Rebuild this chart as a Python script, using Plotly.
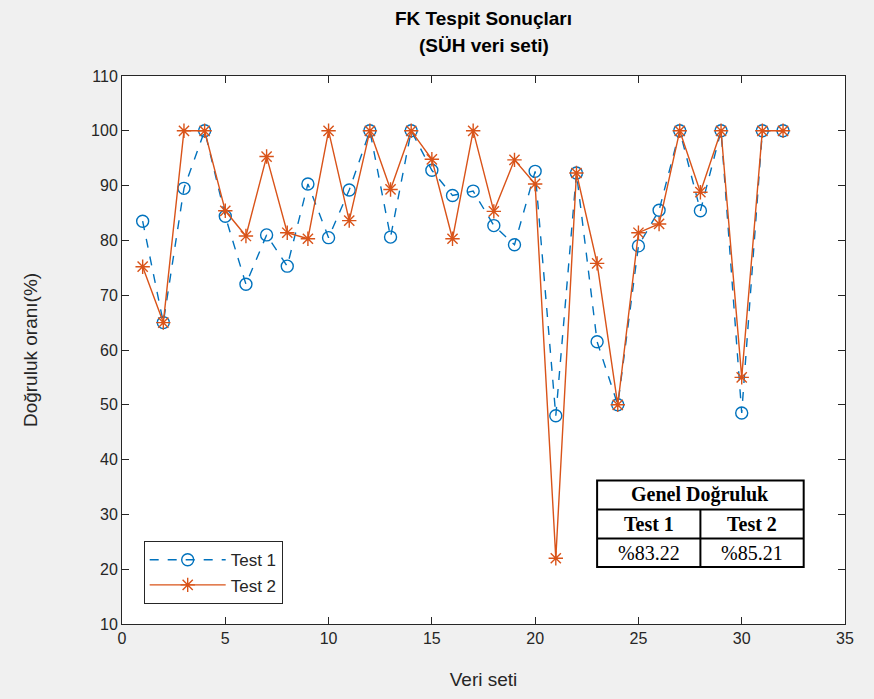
import plotly.graph_objects as go

x_vals = list(range(1, 33))
test1 = [83.5, 65, 89.5, 100, 84.4, 72, 81, 75.3, 90.3, 80.5, 89.2, 100, 80.6, 100, 92.8, 88.2,
         89, 82.7, 79.2, 92.6, 48, 92.3, 61.5, 50, 79, 85.5, 100, 85.4, 100, 48.5, 100, 100]
test2 = [75.2, 65, 100, 100, 85.4, 80.8, 95.3, 81.4, 80.3, 100, 83.6, 100, 89.3, 100, 94.8, 80.3,
         100, 85.3, 94.7, 90.3, 22, 92.3, 75.8, 50, 81.4, 83, 100, 88.8, 100, 55, 100, 100]
series_names = ["Test 1", "Test 2"]
title_lines = ["FK Tespit Sonuçları", "(SÜH veri seti)"]
table_title = "Genel Doğruluk"
table_values = ["%83.22", "%85.21"]

blue = "#0072BD"
orange = "#D95319"
font_main = "Liberation Sans, Arial, sans-serif"
font_serif = "Liberation Serif, Times New Roman, serif"

fig = go.Figure()
fig.add_trace(go.Scatter(x=x_vals, y=test1, name=series_names[0], mode="lines+markers",
                         line=dict(color=blue, width=1.4, dash="dash"),
                         marker=dict(symbol="circle-open", size=12, color=blue, line=dict(width=1.4))))
fig.add_trace(go.Scatter(x=x_vals, y=test2, name=series_names[1], mode="lines+markers",
                         line=dict(color=orange, width=1.4),
                         marker=dict(symbol="asterisk-open", size=12, color=orange, line=dict(width=1.4, color=orange))))

axis_common = dict(showgrid=False, zeroline=False, showline=True, linecolor="#262626", linewidth=1,
                   mirror="ticks", ticks="inside", ticklen=7, tickcolor="#262626",
                   tickfont=dict(family=font_main, size=16, color="#262626"))
fig.update_xaxes(range=[0, 35], dtick=5, tick0=0,
                 title=dict(text="Veri seti", font=dict(family=font_main, size=19, color="#262626"), standoff=26),
                 **axis_common)
fig.update_yaxes(range=[10, 110], dtick=10, tick0=10,
                 title=dict(text="Doğruluk oranı(%)", font=dict(family=font_main, size=19, color="#262626"), standoff=48),
                 **axis_common)

# Title lines
for txt, yy in zip(title_lines, [1.105, 1.056]):
    fig.add_annotation(x=0.5, y=yy, xref="paper", yref="paper", text="<b>" + txt + "</b>",
                       showarrow=False, xanchor="center", yanchor="middle",
                       font=dict(family=font_main, size=19, color="black"))

# Table drawn as shapes + annotations
x0, xm, x1 = 23.0, 28.0, 33.0
ys = [36.2, 30.9, 25.6, 20.4]
fig.add_shape(type="rect", x0=x0, x1=x1, y0=ys[3], y1=ys[0], xref="x", yref="y",
              line=dict(color="black", width=2), fillcolor="white", layer="above")
for yy in ys[1:3]:
    fig.add_shape(type="line", x0=x0, x1=x1, y0=yy, y1=yy, xref="x", yref="y",
                  line=dict(color="black", width=2))
fig.add_shape(type="line", x0=xm, x1=xm, y0=ys[3], y1=ys[1], xref="x", yref="y",
              line=dict(color="black", width=2))
fig.add_annotation(x=(x0 + x1) / 2, y=(ys[0] + ys[1]) / 2, text="<b>" + table_title + "</b>",
                   showarrow=False, font=dict(family=font_serif, size=20, color="black"))
for i, cx in enumerate([(x0 + xm) / 2, (xm + x1) / 2]):
    fig.add_annotation(x=cx, y=(ys[1] + ys[2]) / 2, text="<b>" + series_names[i] + "</b>",
                       showarrow=False, font=dict(family=font_serif, size=20, color="black"))
    fig.add_annotation(x=cx, y=(ys[2] + ys[3]) / 2, text=table_values[i],
                       showarrow=False, font=dict(family=font_serif, size=20, color="black"))

fig.update_layout(
    width=874, height=699,
    margin=dict(l=122, r=29, t=76, b=73),
    paper_bgcolor="#f0f0f0", plot_bgcolor="white",
    legend=dict(x=0.03, y=0.036, xanchor="left", yanchor="bottom", bgcolor="white",
                bordercolor="#262626", borderwidth=1, itemwidth=76, tracegroupgap=4,
                font=dict(family=font_main, size=17, color="#262626")),
    showlegend=True,
)

fig.write_html("out.html")
